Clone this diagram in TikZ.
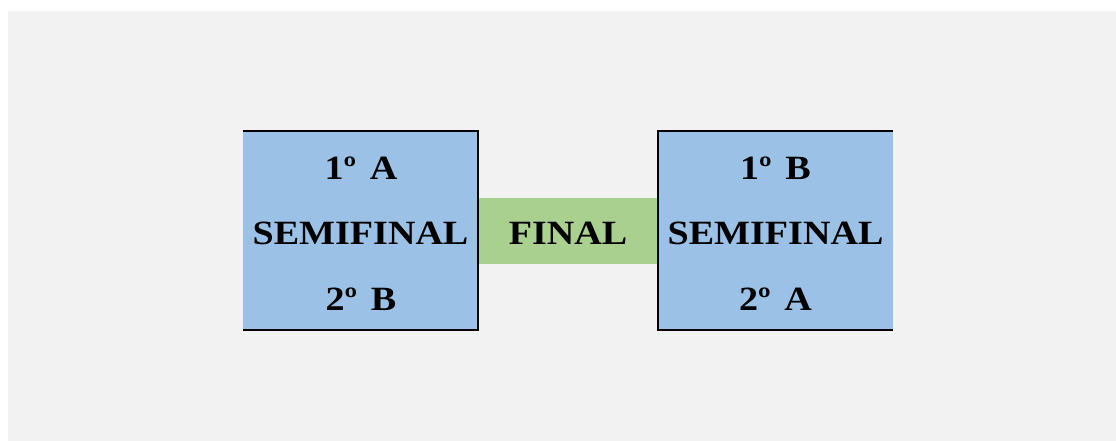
\documentclass[tikz,border=0pt]{standalone}
\usepackage{fontspec}
\setmainfont[FakeStretch=1.12]{Liberation Serif}
\usetikzlibrary{positioning}

\definecolor{bggray}{HTML}{F2F2F2}
\definecolor{semiblue}{HTML}{9BC2E6}
\definecolor{finalgreen}{HTML}{A9D08E}

\begin{document}
\begin{tikzpicture}[x=1pt, y=-1pt,
  semibox/.style={rectangle, fill=semiblue, minimum width=235pt, minimum height=199pt, inner sep=0pt},
  finalbox/.style={rectangle, fill=finalgreen, minimum width=180pt, minimum height=66pt, inner sep=0pt},
  label/.style={font=\bfseries\fontsize{34}{38}\selectfont, inner sep=0pt, anchor=base},
  rim/.style={line width=2pt}
]
  \useasboundingbox (0,0) rectangle (1116,441);
  \fill[bggray] (8,11) rectangle (1116,441);

  % the two semifinal boxes and the final bar between them
  \node[semibox] (semiL) at (360.5,230.5) {};
  \node[semibox] (semiR) at (775.5,230.5) {};
  \node[finalbox, right=0pt of semiL] (final) {};

  % open edges face outwards
  \draw[rim] (semiL.north west) -- (semiL.north east) -- (semiL.south east) -- (semiL.south west);
  \draw[rim] (semiR.north east) -- (semiR.north west) -- (semiR.south west) -- (semiR.south east);

  % left semifinal
  \node[label] (semiLtop) at (361,179) {1º\hspace{0.4em}A};
  \node[label] (semiLmid) at (360.5,244) {SEMIFINAL};
  \node[label] (semiLbot) at (361,310) {2º\hspace{0.4em}B};

  \node[label] (finaltxt) at (568,244) {FINAL};

  % right semifinal
  \node[label] (semiRtop) at (775.5,179) {1º\hspace{0.4em}B};
  \node[label] (semiRmid) at (775.5,244) {SEMIFINAL};
  \node[label] (semiRbot) at (775.5,310) {2º\hspace{0.4em}A};
\end{tikzpicture}
\end{document}
